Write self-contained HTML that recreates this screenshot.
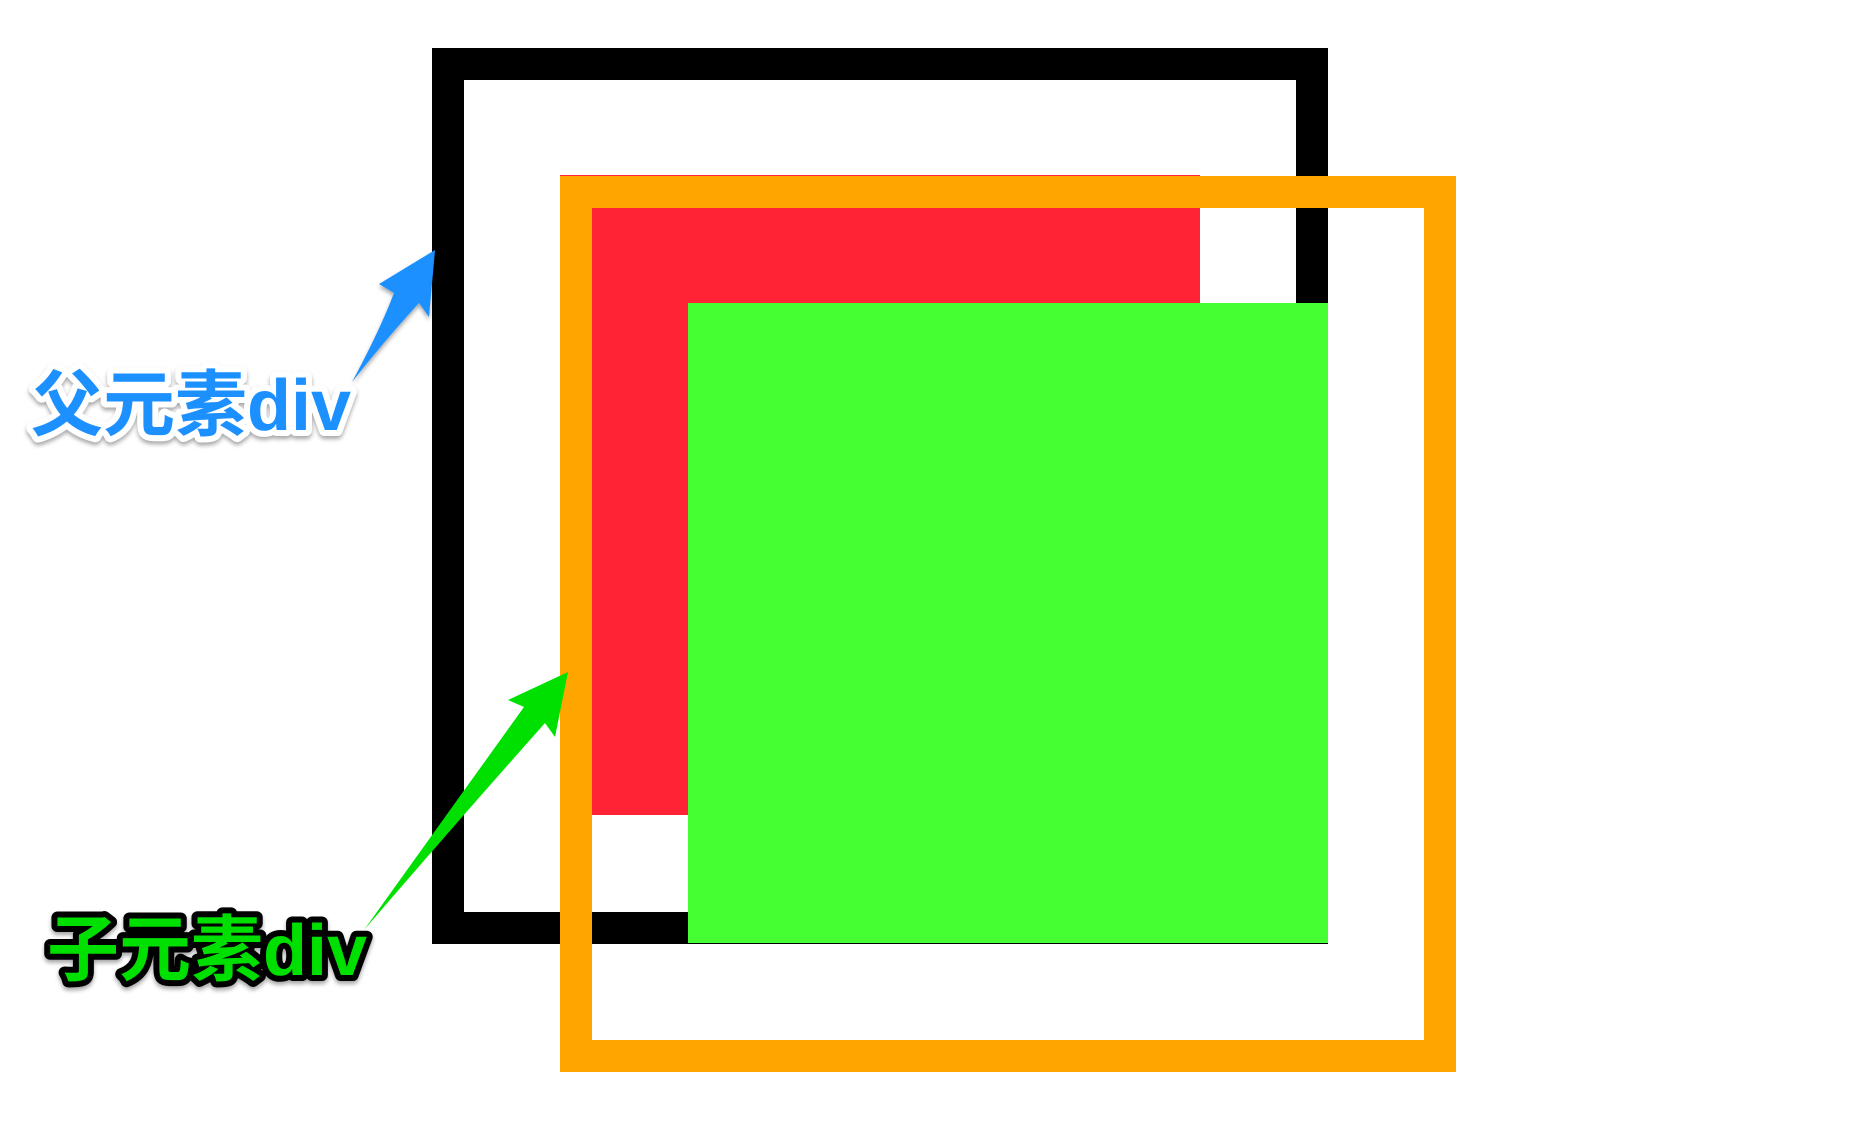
<!DOCTYPE html>
<html><head><meta charset="utf-8"><style>
html,body{margin:0;padding:0;background:#fff;}
svg{display:block}
.lbl{font-family:"Liberation Sans","Noto Sans CJK SC",sans-serif;font-weight:bold;font-size:72px;paint-order:stroke fill;stroke-linejoin:round}
</style></head><body>
<svg width="1854" height="1126" viewBox="0 0 1854 1126">
  <defs>
    <filter id="sh" x="-10%" y="-10%" width="120%" height="130%"><feDropShadow dx="0" dy="3" stdDeviation="2" flood-color="#000" flood-opacity="0.35"/></filter>
  </defs>
  <rect x="448" y="64" width="864" height="864" fill="none" stroke="#000" stroke-width="32"/>
  <rect x="560" y="175" width="640" height="640" fill="#FF2335"/>
  <rect x="576" y="192" width="864" height="864" fill="none" stroke="#FFA500" stroke-width="32"/>
  <rect x="688" y="303" width="640" height="640" fill="#46FF33"/>

  <g filter="url(#sh)">
    <path d="M352,382 Q380,330 394,293 L379,284 L435,250 L429,317 L419,303 Q385,340 352,382 Z" fill="#1E90FF"/>
  </g>
  <text class="lbl" x="31" y="430" fill="#1E90FF" stroke="#fff" stroke-width="12" filter="url(#sh)">父元素div</text>

  <g>
    <path d="M364,930 Q450,810 524,707 L508,700 L568,672 L555,737 L545,723 Q450,830 364,930 Z" fill="#00E000"/>
  </g>
  <text class="lbl" x="47" y="975" fill="#00E000" stroke="#000" stroke-width="12" filter="url(#sh)">子元素div</text>
</svg>
</body></html>
